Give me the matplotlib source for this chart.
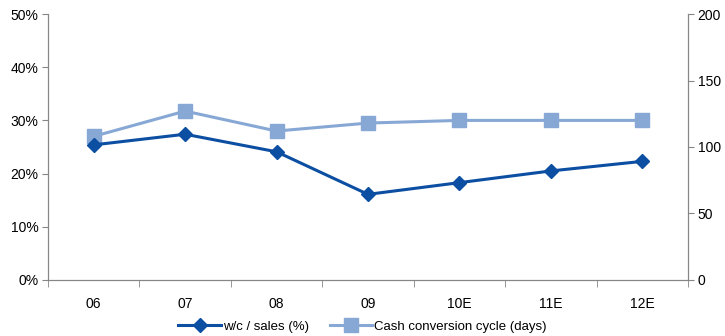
import numpy as np
import matplotlib.pyplot as plt
from matplotlib.ticker import PercentFormatter

plt.rcParams['font.family'] = ['Liberation Sans', 'DejaVu Sans']

years = ['06', '07', '08', '09', '10E', '11E', '12E']
wc_sales = [25.4, 27.4, 24.1, 16.1, 18.3, 20.5, 22.3]
ccc_days = [108, 127, 112, 118, 120, 120, 120]

dark = '#0B4EA2'
light = '#87A8D5'
grey = '#868686'

fig = plt.figure(figsize=(7.25, 3.36), dpi=100)
ax = fig.add_axes([0.0662, 0.1667, 0.8828, 0.7916])
ax2 = ax.twinx()

x = np.arange(len(years))
l2, = ax2.plot(x, ccc_days, color=light, lw=2.2, marker='s', ms=10,
               label='Cash conversion cycle (days)')
l1, = ax.plot(x, wc_sales, color=dark, lw=2.2, marker='D', ms=7,
              label='w/c / sales (%)')
ax.set_zorder(ax2.get_zorder() + 1)
ax.patch.set_visible(False)

ax.set_xlim(-0.5, len(years) - 0.5)
ax.set_ylim(0, 50)
ax.set_yticks(np.arange(0, 51, 10))
ax.yaxis.set_major_formatter(PercentFormatter(decimals=0))
ax2.set_ylim(0, 200)
ax2.set_yticks(np.arange(0, 201, 50))

ax.set_xticks(x)
ax.set_xticklabels(years)
ax.set_xticks(np.arange(-0.5, len(years) + 0.5, 1), minor=True)
ax.tick_params(axis='x', which='major', length=0, pad=12, labelsize=10)
ax.tick_params(axis='x', which='minor', length=5, color=grey, direction='out')
ax.tick_params(axis='y', length=4, color=grey, labelsize=10, pad=3)
ax2.tick_params(axis='y', length=4, color=grey, labelsize=10, pad=3)

for a in (ax, ax2):
    a.spines['top'].set_visible(False)
    for s in ('left', 'right', 'bottom'):
        a.spines[s].set_color(grey)

fig.legend([l1, l2], [l1.get_label(), l2.get_label()], loc='lower center',
           bbox_to_anchor=(0.5, -0.025), ncol=2, frameon=False, fontsize=9.5,
           handlelength=3.2, columnspacing=1.6, handletextpad=0.15)

fig.savefig('out.png', dpi=100)
